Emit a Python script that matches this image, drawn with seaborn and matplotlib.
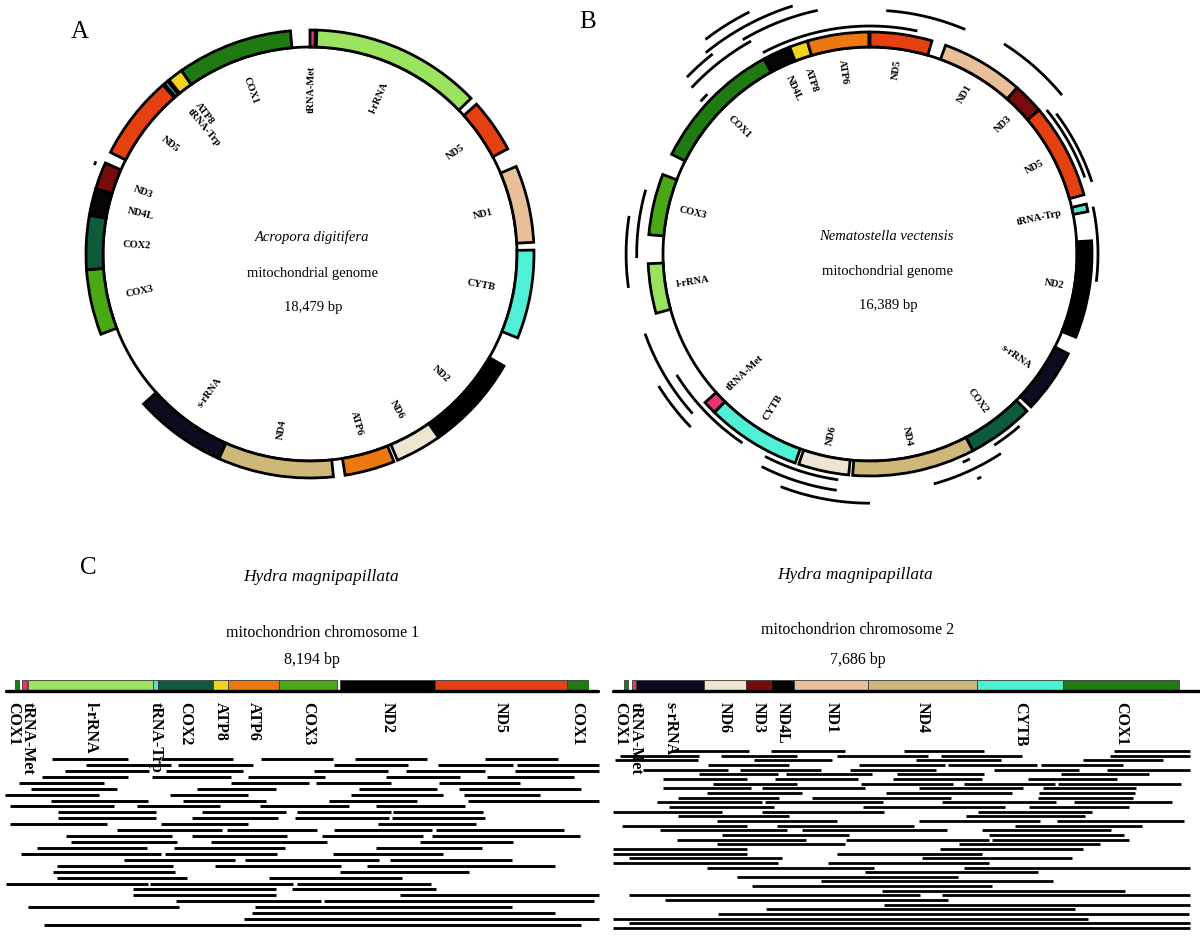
import numpy as np
import matplotlib
matplotlib.use("Agg")
import matplotlib.pyplot as plt
import seaborn as sns

sns.set_theme(style="white")
plt.rcParams["font.family"] = ["Liberation Serif", "DejaVu Serif"]
plt.rcParams["text.color"] = "black"

W, H = 1200, 940

# ---------------- gene colours ----------------
gene_palette = {
    "COX1": "#1f7a12", "COX2": "#0f5a3a", "COX3": "#4aa815",
    "ND1": "#e8bf98", "ND2": "#000000", "ND3": "#780b0b", "ND4": "#cdb87a",
    "ND4L": "#050505", "ND5": "#e5400f", "ND6": "#ebe5d2",
    "CYTB": "#4ff0d6", "ATP6": "#ec780f", "ATP8": "#f2d31e",
    "l-rRNA": "#9be35f", "s-rRNA": "#0c0c20",
    "tRNA-Met": "#e8346f", "tRNA-Trp": "#55e3d0",
}

# ---------------- Panel A: Acropora digitifera ----------------
a_length = 18479
a_genes = ["tRNA-Met", "l-rRNA", "ND5", "ND1", "CYTB", "ND2", "ND6", "ATP6", "ND4",
           "s-rRNA", "COX3", "COX2", "ND4L", "ND3", "ND5", "tRNA-Trp", "ATP8", "COX1"]
a_start = [0, 90, 2464, 3439, 4568, 6160, 7443, 8110, 8931,
           10471, 12781, 13654, 14372, 14732, 15245, 16400, 16477, 16682]
a_end = [70, 2360, 3183, 4466, 5749, 7443, 8059, 8777, 10471,
         11703, 13654, 14372, 14732, 15091, 16374, 16450, 16682, 18222]
a_read_start = [15010]
a_read_end = [15060]
a_read_level = [1]

# ---------------- Panel B: Nematostella vectensis ----------------
b_length = 16389
b_genes = ["ND5", "ND1", "ND3", "ND5", "tRNA-Trp", "ND2", "s-rRNA", "COX2", "ND4",
           "ND6", "CYTB", "tRNA-Met", "l-rRNA", "COX3", "COX1", "ND4L", "ATP8", "ATP6"]
b_start = [0, 906, 1889, 2258, 3505, 3942, 5313, 6146, 6938,
           8445, 9091, 10220, 11586, 12519, 13507, 15092, 15424, 15642]
b_end = [738, 1889, 2258, 3392, 3596, 5099, 6078, 6938, 8399,
         9046, 10220, 10380, 12178, 13248, 15092, 15424, 15642, 16375]
b_read_start = [14604, 14682, 14991, 14295, 14249, 14204, 15114, 173, 1480, 2313, 2413, 3551,
                6328, 6679, 7011, 6988, 11928, 12246, 10380, 9742, 10289, 8559, 8559, 8195]
b_read_end = [15601, 15183, 15838, 14650, 15060, 14318, 546, 1047, 2294, 3205, 3278, 4416,
              6692, 7489, 7102, 7034, 12701, 13020, 11404, 10835, 10835, 9442, 9424, 9151]
b_read_level = [6, 8, 4, 5, 3, 0, 0, 3, 4, 0, 1, 0,
                0, 2, 0, 4, 3, 1, 2, 0, 4, 0, 2, 4]

# ---------------- Panel C: Hydra magnipapillata ----------------
c1_length = 8194
c1_genes = ["COX1", "tRNA-Met", "l-rRNA", "tRNA-Trp", "COX2", "ATP8", "ATP6", "COX3", "ND2", "ND5", "COX1"]
c1_start = [0, 98, 175, 1968, 2035, 2832, 3047, 3774, 4637, 5997, 7883]
c1_end = [55, 164, 1968, 2035, 2832, 3047, 3774, 4595, 5997, 7883, 8194]
c1_label_nudge = [-4, 3, 0, 0, 0, 0, 0, 0, 0, 0, 0]
c1_reads = [
    [519, 1613, 2078, 3118, 3517, 4540, 4852, 5891, 6717, 7756],
    [1012, 2226, 2325, 3391, 4551, 5607, 6044, 7111, 7176, 8342],
    [711, 1914, 2150, 3254, 4266, 5333, 5590, 6717, 7149, 8342],
    [383, 1613, 1958, 3090, 3326, 4431, 5295, 6361, 6744, 7986],
    [55, 1274, 3090, 4201, 4294, 5371, 6055, 7220],
    [219, 1460, 2598, 3719, 4906, 6033, 6345, 8084],
    [-153, 1192, 2204, 3326, 4797, 6115, 6416, 7494],
    [508, 1898, 2396, 3583, 4485, 5743, 6465, 8342],
    [-82, 1406, 1734, 2926, 3501, 4775, 5158, 6427],
    [612, 2013, 2664, 3867, 4031, 5371, 5399, 6684],
    [612, 2013, 2532, 3758, 3993, 5344, 5388, 6712],
    [-82, 1313, 2089, 3320, 5185, 6591],
    [1460, 2954, 3025, 4305, 4556, 5962, 6017, 7849],
    [727, 2243, 2532, 3884, 4387, 5825, 5962, 8068],
    [793, 2308, 2790, 4458, 5787, 7111],
    [317, 1881, 2270, 3856, 5153, 6673],
    [82, 2089, 2133, 3747, 4540, 6110],
    [1548, 3145, 3282, 5196, 5349, 7100],
    [602, 2253, 2855, 4660, 5021, 7713],
    [536, 2286, 4638, 6482],
    [602, 2450, 3626, 5525],
    [-137, 1903, 1925, 3966, 4020, 5935],
    [1685, 3719, 3949, 6006],
    [1685, 3719, 5497, 8342],
    [2297, 4376, 4414, 8270],
    [180, 2341, 3430, 7100],
    [3380, 7713],
    [3271, 8342],
    [410, 8084],
]

c2_length = 7686
c2_genes = ["COX1", "tRNA-Met", "s-rRNA", "ND6", "ND3", "ND4L", "ND1", "ND4", "CYTB", "COX1"]
c2_start = [0, 114, 170, 1110, 1683, 2036, 2359, 3378, 4885, 6074]
c2_end = [54, 170, 1110, 1683, 2036, 2359, 3378, 4885, 6074, 7686]
c2_label_nudge = [-5, 2, 0, 0, 0, 0, 0, 0, 0, 0]
c2_reads = [
    [651, 1725, 2037, 3057, 3877, 4972, 6776, 7818],
    [-52, 1037, 1338, 2396, 2952, 4205, 4380, 5501, 6723, 7818],
    [-116, 1021, 1799, 2872, 4036, 5210, 6347, 7458],
    [1164, 2280, 3253, 4433, 4475, 5713, 5765, 6892],
    [265, 1444, 1603, 2730, 3121, 4311, 5110, 6284, 6680, 7818],
    [1037, 2132, 2238, 3428, 3782, 4977, 6035, 7262],
    [545, 1698, 2090, 3232, 3719, 4946, 5580, 6813],
    [1233, 2396, 3285, 4549, 4708, 5956, 6003, 7701],
    [545, 1762, 1910, 3338, 4078, 5517, 5792, 7077],
    [1153, 2465, 3623, 5369, 5744, 7061],
    [757, 2148, 2608, 4528, 5728, 7040],
    [466, 1904, 1957, 3586, 4396, 5977, 6220, 7580],
    [624, 2079, 3311, 5268, 5596, 6987],
    [-142, 1365, 1910, 3602, 4898, 6469],
    [746, 2280, 4734, 6374],
    [1286, 2952, 4078, 5755, 5982, 7738],
    [-26, 1698, 2121, 4010, 5411, 7156],
    [503, 2253, 2465, 4470, 4946, 6733],
    [1354, 3110, 5041, 6918],
    [741, 2513, 3068, 5041, 5083, 6987],
    [1286, 3057, 4628, 6575],
    [-142, 1709, 4369, 6347],
    [-142, 1709, 2952, 4951],
    [69, 2185, 4115, 6189],
    [-142, 2132, 2819, 5051],
    [1153, 3465, 4708, 7818],
    [3338, 5718],
    [1566, 4618],
    [2730, 5930],
    [1778, 5094],
    [3570, 6929],
    [69, 4099, 4396, 7818],
    [572, 4475],
    [3597, 7818],
    [1963, 6231],
    [1302, 7807],
    [-142, 6416],
    [69, 7818],
    [-142, 7818],
]

fig = plt.figure(figsize=(W / 100, H / 100), dpi=100)
fig.patch.set_facecolor("white")


def px_text(x, y, s, **kw):
    fig.text(x / W, 1 - y / H, s, ha="center", va="center", color="black", **kw)


def circular_map(cx, cy, length, genes, starts, ends, r_in, ring, label_r,
                 rs, re_, lv):
    rmax = 290
    ax = fig.add_axes([(cx - rmax) / W, 1 - (cy + rmax) / H, 2 * rmax / W, 2 * rmax / H],
                      projection="polar")
    ax.set_theta_zero_location("N")
    ax.set_theta_direction(-1)
    ax.set_ylim(0, rmax)
    ax.axis("off")
    th = np.linspace(0, 2 * np.pi, 1000)
    ax.plot(th, np.full_like(th, r_in), color="black", lw=2.0, zorder=2)
    for g, s, e in zip(genes, starts, ends):
        t0 = 2 * np.pi * s / length
        t1 = 2 * np.pi * e / length
        ax.bar(t0, ring, width=t1 - t0, bottom=r_in, align="edge",
               color=gene_palette[g], edgecolor="black", linewidth=2.0, zorder=3)
        mid = np.degrees((t0 + t1) / 2)
        rot = 90 - mid
        rot = (rot + 180) % 360 - 180
        if rot > 90 or rot < -90:
            rot = rot + 180 if rot < 0 else rot - 180
            ha = "left"
        else:
            ha = "right"
        ax.text(np.radians(mid), label_r, g, rotation=rot, rotation_mode="anchor",
                ha=ha, va="center", fontsize=7.5, fontweight="bold", color="black",
                zorder=4)
    for s, e, level in zip(rs, re_, lv):
        if e < s:
            e = e + length
        t = np.linspace(2 * np.pi * s / length, 2 * np.pi * e / length, 200)
        ax.plot(t, np.full_like(t, 228 + 5.3 * level), color="black", lw=2.0,
                solid_capstyle="butt", zorder=2)
    return ax


circular_map(310, 254, a_length, a_genes, a_start, a_end, 207, 17, 188,
             a_read_start, a_read_end, a_read_level)
circular_map(870, 254, b_length, b_genes, b_start, b_end, 207, 15, 196,
             b_read_start, b_read_end, b_read_level)

px_text(312, 237, "Acropora digitifera", fontsize=10.5, style="italic")
px_text(313, 273, "mitochondrial genome", fontsize=10.5)
px_text(313, 307, "18,479 bp", fontsize=10.5)
px_text(886, 237, "Nematostella vectensis", fontsize=10.5, style="italic")
px_text(888, 271, "mitochondrial genome", fontsize=10.5)
px_text(888, 305, "16,389 bp", fontsize=10.5)

px_text(80, 32, "A", fontsize=18)
px_text(588, 22, "B", fontsize=18)
px_text(88, 568, "C", fontsize=18)


def linear_map(x0, x1, length, genes, starts, ends, nudges, reads, line_x0, line_x1,
               row_y0, row_dy, read_lw):
    top = 660
    ax = fig.add_axes([x0 / W, 0, (x1 - x0) / W, (H - top) / H])
    ax.set_xlim(0, length)
    ax.set_ylim(H, top)
    ax.axis("off")
    bpp = length / (x1 - x0)
    ax.plot([(line_x0 - x0) * bpp, (line_x1 - x0) * bpp], [690.5, 690.5],
            color="black", lw=2.4, clip_on=False, zorder=3)
    for g, s, e, dn in zip(genes, starts, ends, nudges):
        ax.bar(s, 10, width=e - s, bottom=680, align="edge", color=gene_palette[g],
               edgecolor="#3a3a3a", linewidth=0.6, zorder=2)
        ax.text((s + e) / 2 + dn * bpp, 702, g, rotation=-90, ha="center", va="top",
                fontsize=11.5, fontweight="bold", color="black", zorder=4)
    for i, row in enumerate(reads):
        y = row_y0 + row_dy * i
        for s, e in zip(row[0::2], row[1::2]):
            ax.plot([s, e], [y, y], color="black", lw=read_lw, clip_on=False,
                    solid_capstyle="butt", zorder=1)
    sns.despine(ax=ax, left=True, bottom=True)
    return ax


linear_map(15.3, 588.6, c1_length, c1_genes, c1_start, c1_end, c1_label_nudge, c1_reads,
           6, 598, 759, 5.93, 2.1)
linear_map(623.7, 1180, c2_length, c2_genes, c2_start, c2_end, c2_label_nudge, c2_reads,
           613, 1200, 751, 4.66, 2.0)

px_text(321, 577, "Hydra magnipapillata", fontsize=12.5, style="italic")
px_text(323, 633, "mitochondrion chromosome 1", fontsize=11.5)
px_text(312, 660, "8,194 bp", fontsize=11.5)
px_text(855, 575, "Hydra magnipapillata", fontsize=12.5, style="italic")
px_text(858, 630, "mitochondrion chromosome 2", fontsize=11.5)
px_text(858, 660, "7,686 bp", fontsize=11.5)

fig.savefig("out.png", dpi=100, facecolor="white")
